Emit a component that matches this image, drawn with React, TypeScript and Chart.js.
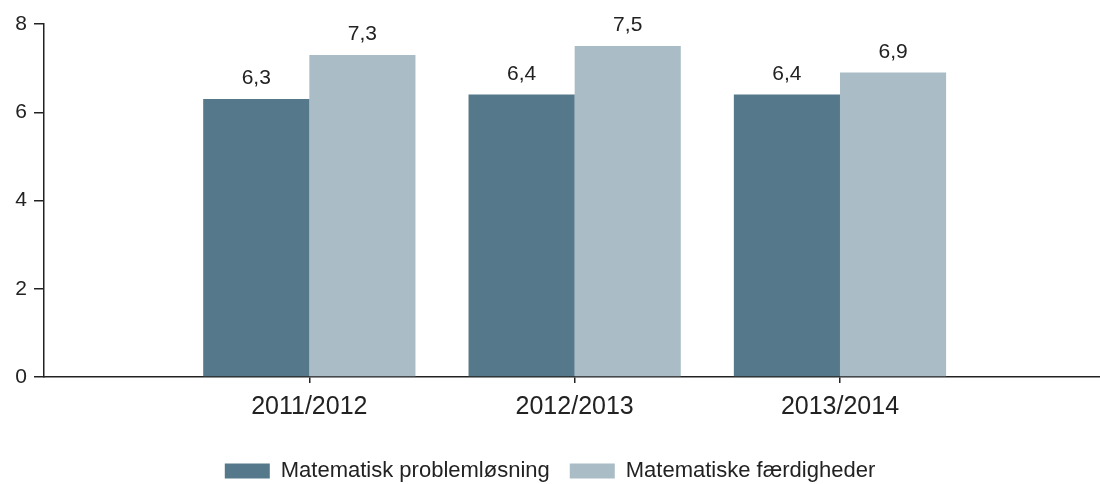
import React, { useEffect, useRef } from "react";
import { Chart, registerables } from "chart.js";

Chart.register(...registerables);

const categories = ["2011/2012", "2012/2013", "2013/2014"];
const problemlosning = [6.3, 6.4, 6.4];
const faerdigheder = [7.3, 7.5, 6.9];
const yTicks = [0, 2, 4, 6, 8];

const seriesNames = ["Matematisk problemløsning", "Matematiske færdigheder"];
const seriesColors = ["#55788a", "#aabcc6"];

const FONT = "'Liberation Sans', Arial, sans-serif";

const valueLabels = {
  id: "valueLabels",
  afterDatasetsDraw(chart: any) {
    const ctx = chart.ctx;
    ctx.save();
    ctx.font = `21px ${FONT}`;
    ctx.fillStyle = "#222";
    ctx.textAlign = "center";
    ctx.textBaseline = "alphabetic";
    chart.data.datasets.forEach((ds: any, di: number) => {
      const meta = chart.getDatasetMeta(di);
      meta.data.forEach((el: any, i: number) => {
        const v = ds.data[i].y;
        ctx.fillText(v.toFixed(1).replace(".", ","), el.x, el.y - 15);
      });
    });
    ctx.restore();
  },
};

export default function App() {
  const ref = useRef<HTMLCanvasElement>(null);

  useEffect(() => {
    document.body.style.margin = "0";
    const canvas = ref.current;
    if (!canvas) return;
    const toPoints = (arr: number[]) => arr.map((y, i) => ({ x: i + 1, y }));
    const chart = new Chart(canvas, {
      type: "bar",
      data: {
        datasets: [
          {
            label: seriesNames[0],
            data: toPoints(problemlosning) as any,
            backgroundColor: seriesColors[0],
            borderWidth: 0,
          },
          {
            label: seriesNames[1],
            data: toPoints(faerdigheder) as any,
            backgroundColor: seriesColors[1],
            borderWidth: 0,
          },
        ],
      },
      options: {
        animation: false,
        responsive: false,
        maintainAspectRatio: false,
        layout: { padding: { top: 24, right: 0, left: 0, bottom: -8 } },
        datasets: { bar: { barPercentage: 1, categoryPercentage: 0.8 } } as any,
        scales: {
          x: {
            type: "linear",
            min: 0,
            max: 3.98,
            offset: false,
            afterBuildTicks: (scale: any) => {
              scale.ticks = categories.map((_, i) => ({ value: i + 1 }));
            },
            afterFit: (scale: any) => {
              scale.height = 63;
            },
            ticks: {
              callback: (v: any) => categories[Number(v) - 1] ?? "",
              font: { family: FONT, size: 25 },
              color: "#222",
              padding: 9,
              maxRotation: 0,
              autoSkip: false,
            },
            grid: {
              display: true,
              offset: false,
              drawOnChartArea: false,
              drawTicks: true,
              tickLength: 6,
              color: "#222",
              lineWidth: 1.5,
            },
            border: { display: true, color: "#222", width: 1.5 },
          },
          y: {
            type: "linear",
            min: 0,
            max: 8,
            afterBuildTicks: (scale: any) => {
              scale.ticks = yTicks.map((v) => ({ value: v }));
            },
            afterFit: (scale: any) => {
              scale.width = 44;
            },
            ticks: {
              font: { family: FONT, size: 21 },
              color: "#222",
              padding: 7,
            },
            grid: {
              display: true,
              drawOnChartArea: false,
              drawTicks: true,
              tickLength: 10,
              color: "#222",
              lineWidth: 1.5,
            },
            border: { display: true, color: "#222", width: 1.5 },
          },
        },
        plugins: {
          legend: {
            display: true,
            position: "bottom",
            labels: {
              boxWidth: 45,
              boxHeight: 15,
              padding: 20,
              color: "#222",
              font: { family: FONT, size: 22 },
            },
          },
          tooltip: { enabled: false },
        },
      },
      plugins: [valueLabels],
    });
    return () => chart.destroy();
  }, []);

  return (
    <div style={{ width: 1100, height: 484 }}>
      <canvas ref={ref} width={1100} height={484} style={{ display: "block" }} />
    </div>
  );
}
